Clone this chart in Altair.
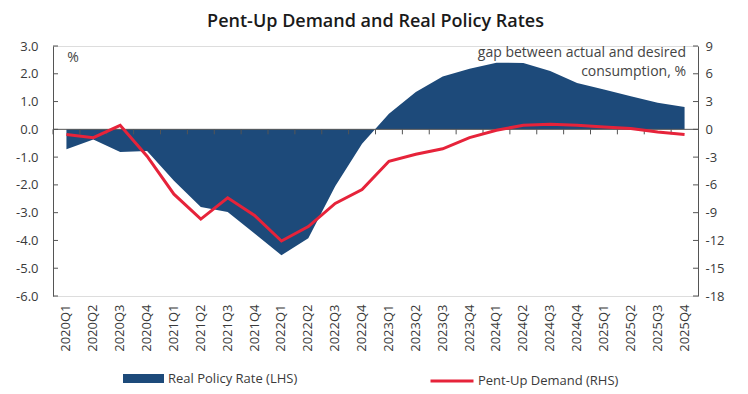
import altair as alt
import pandas as pd

quarters = ["2020Q1", "2020Q2", "2020Q3", "2020Q4", "2021Q1", "2021Q2", "2021Q3", "2021Q4",
            "2022Q1", "2022Q2", "2022Q3", "2022Q4", "2023Q1", "2023Q2", "2023Q3", "2023Q4",
            "2024Q1", "2024Q2", "2024Q3", "2024Q4", "2025Q1", "2025Q2", "2025Q3", "2025Q4"]
real_policy_rate = [-0.72, -0.37, -0.82, -0.78, -1.85, -2.8, -2.98, -3.75, -4.53, -3.92, -2.05, -0.52,
                    0.56, 1.34, 1.9, 2.18, 2.40, 2.39, 2.1, 1.67, 1.43, 1.19, 0.96, 0.80]
pent_up_demand = [-0.57, -0.9, 0.43, -2.9, -7.0, -9.7, -7.4, -9.3, -12.06, -10.5, -8.0, -6.5,
                  -3.45, -2.7, -2.1, -0.9, -0.1, 0.43, 0.54, 0.43, 0.25, 0.1, -0.29, -0.57]
left_ticks = [3, 2, 1, 0, -1, -2, -3, -4, -5, -6]
right_ticks = [9, 6, 3, 0, -3, -6, -9, -12, -15, -18]
series_names = ["Real Policy Rate (LHS)", "Pent-Up Demand (RHS)"]
title_text = "Pent-Up Demand and Real Policy Rates"
left_unit = "%"
right_unit_lines = ["gap between actual and desired", "consumption, %"]

BLUE = "#1d4a7a"
RED = "#e6233a"
AXC = "#555555"
TXT = "#3a3a3a"
FONT = "Open Sans"

df = pd.DataFrame({"q": quarters, "rate": real_policy_rate, "demand": pent_up_demand,
                   "s1": series_names[0], "s2": series_names[1]})
lt = pd.DataFrame({"v": left_ticks})
rt = pd.DataFrame({"v": right_ticks})
one = pd.DataFrame({"k": [0]})

LDOM = [-6, 3]
RDOM = [-18, 9]
W, H = 645, 250

xscale = alt.Scale(type="band", paddingInner=0, paddingOuter=0)
xaxis = alt.Axis(title=None, labelAngle=-90, labelFontSize=13, labelColor=TXT, labelFont=FONT,
                 domain=False, ticks=False, labelPadding=8)

area = alt.Chart(df).mark_area(color=BLUE).encode(
    x=alt.X("q:N", sort=quarters, scale=xscale, axis=xaxis, bandPosition=0.5),
    y=alt.Y("rate:Q", scale=alt.Scale(domain=LDOM, nice=False, zero=False),
            axis=alt.Axis(title=None, orient="left", values=left_ticks, grid=False, ticks=False,
                          labelPadding=15, labelFontSize=13, labelColor=TXT, labelFont=FONT,
                          domainColor=AXC, domainWidth=1,
                          labelExpr="replace(format(datum.value, '.1f'), '\u2212', '-')")),
    y2=alt.datum(0),
    fill=alt.Fill("s1:N", scale=alt.Scale(domain=[series_names[0]], range=[BLUE]),
                  legend=alt.Legend(title=None, orient="none", legendX=70, legendY=312,
                                    symbolType="M-1,-0.22H1V0.22H-1Z", symbolSize=1681,
                                    symbolStrokeWidth=0, labelFontSize=13, labelFont=FONT,
                                    labelColor=TXT, labelOffset=4)),
)

zero = alt.Chart(one).mark_rule(color=AXC, strokeWidth=1).encode(
    y=alt.datum(0, scale=alt.Scale(domain=LDOM, nice=False, zero=False), axis=None),
)

xticks = alt.Chart(df).mark_rule(color=AXC, strokeWidth=1).encode(
    x=alt.X("q:N", sort=quarters, bandPosition=0),
    y=alt.datum(0, scale=alt.Scale(domain=LDOM, nice=False, zero=False), axis=None),
    y2=alt.datum(-0.18),
)

lticks = alt.Chart(lt).mark_rule(color=AXC, strokeWidth=1).encode(
    y=alt.Y("v:Q", scale=alt.Scale(domain=LDOM, nice=False, zero=False), axis=None),
    x=alt.value(0), x2=alt.value(5),
)
rticks = alt.Chart(rt).mark_rule(color=AXC, strokeWidth=1).encode(
    y=alt.Y("v:Q", scale=alt.Scale(domain=RDOM, nice=False, zero=False), axis=None),
    x=alt.value(W - 5), x2=alt.value(W),
)

line = alt.Chart(df).mark_line(strokeWidth=3).encode(
    x=alt.X("q:N", sort=quarters, bandPosition=0.5),
    y=alt.Y("demand:Q", scale=alt.Scale(domain=RDOM, nice=False, zero=False),
            axis=alt.Axis(title=None, orient="right", values=right_ticks, grid=False, ticks=False,
                          labelPadding=7, labelFontSize=13, labelColor=TXT, labelFont=FONT,
                          domainColor=AXC, domainWidth=1,
                          labelExpr="replace(format(datum.value, 'd'), '\u2212', '-')")),
    stroke=alt.Stroke("s2:N", scale=alt.Scale(domain=[series_names[1]], range=[RED]),
                      legend=alt.Legend(title=None, orient="none", legendX=376, legendY=312,
                                        symbolType="M-1,0H1", symbolSize=1849,
                                        symbolStrokeWidth=3, labelFontSize=13, labelFont=FONT,
                                        labelColor=TXT, labelOffset=3)),
)

texts = [alt.Chart(one).mark_text(text=left_unit, fontSize=14, font=FONT, color="#444444",
                                  align="center", baseline="middle").encode(
    x=alt.value(20), y=alt.value(12))]
for i, s in enumerate(right_unit_lines):
    texts.append(alt.Chart(one).mark_text(text=s, fontSize=14, font=FONT, color="#444444",
                                          align="right", baseline="middle").encode(
        x=alt.value(633), y=alt.value(7 + 19 * i)))

chart = alt.layer(area, zero, xticks, lticks, rticks, line, *texts).resolve_scale(
    y="independent", fill="independent", stroke="independent"
).properties(
    width=W, height=H,
    title=alt.TitleParams(title_text, fontSize=18, fontWeight=600, font=FONT, color="#1a1a1a",
                          anchor="middle", offset=9),
    autosize=alt.AutoSizeParams(type="none"),
    padding={"left": 45, "top": 38, "right": 42, "bottom": 100},
).configure_view(stroke=None).configure(background="white")

chart.save("out.html", embed_options={"renderer": "svg", "actions": False})
